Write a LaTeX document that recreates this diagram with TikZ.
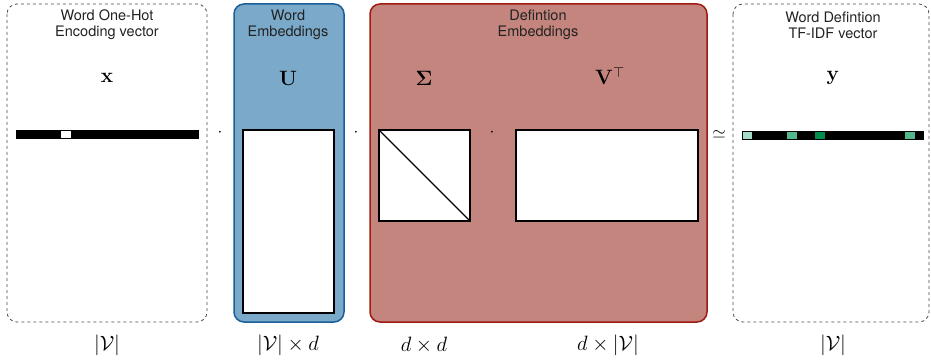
\documentclass[tikz,border=0pt]{standalone}
\usepackage{amsmath,amssymb}
\usepackage[no-math]{fontspec}
\setmainfont{TeX Gyre Heros}
\definecolor{bluefill}{HTML}{7AA9C9}
\definecolor{blueedge}{HTML}{1A5E9A}
\definecolor{redfill}{HTML}{C5857F}
\definecolor{rededge}{HTML}{9E1B12}
\definecolor{gA}{HTML}{A5DBC6}
\definecolor{gB}{HTML}{54B68C}
\definecolor{gC}{HTML}{008C4A}
\definecolor{txt}{HTML}{222222}
\begin{document}
\begin{tikzpicture}[x=1pt,y=-1pt,
  titletext/.style={font=\fontsize{14.5}{16}\selectfont, text=txt, align=center},
  mathtext/.style={font=\fontsize{20}{24}\selectfont},
  dimtext/.style={font=\fontsize{20}{24}\selectfont},
  dashbox/.style={draw=black!70, dashed, line width=0.8pt, rounded corners=10pt},
  matbox/.style={draw=black, fill=white, line width=1.3pt},
  opsym/.style={font=\fontsize{18}{20}\selectfont}]
\useasboundingbox (0,0) rectangle (931,363);
% panels
\draw[dashbox] (7,4) rectangle (207,322);
\draw[fill=bluefill, draw=blueedge, line width=1.5pt, rounded corners=10pt] (234,4) rectangle (344,322);
\draw[fill=redfill, draw=rededge, line width=1.5pt, rounded corners=10pt] (370,4) rectangle (707,322);
\draw[dashbox] (733,4) rectangle (929,322);
% titles
\node[titletext] (t1) at (107,25) {Word One-Hot\\Encoding vector};
\node[titletext] (t2) at (288,25) {Word\\Embeddings};
\node[titletext] (t3) at (538,25) {Defintion\\Embeddings};
\node[titletext] (t4) at (833,25) {Word Defintion\\TF-IDF vector};
% symbols
\node[mathtext] (sx) at (107,78) {$\mathbf{x}$};
\node[mathtext] (sU) at (288,78) {$\mathbf{U}$};
\node[mathtext] (sS) at (424,78) {$\boldsymbol{\Sigma}$};
\node[mathtext] (sV) at (610,76) {$\mathbf{V}^{\top}$};
\node[mathtext] (sy) at (833,78) {$\mathbf{y}$};
% x vector
\fill[black] (16,130) rectangle (199,139);
\fill[white] (61,131) rectangle (71,138);
% U
\draw[matbox] (243,130) rectangle (334,313);
% Sigma
\draw[matbox] (379,130) rectangle (470,221);
\draw[line width=1.3pt] (379,130) -- (470,221);
% V
\draw[matbox] (516,130) rectangle (698,221);
% y vector
\fill[black] (742,131) rectangle (924,140);
\fill[gA] (743,132) rectangle (752,139);
\fill[gB] (787,132) rectangle (797,139);
\fill[gC] (815,132) rectangle (825,139);
\fill[gB] (905,132) rectangle (915,139);
% operators
\node[opsym] (d1) at (220,133) {$\cdot$};
\node[opsym] (d2) at (356,133) {$\cdot$};
\node[opsym] (d3) at (492,133) {$\cdot$};
\node[opsym] (ap) at (719,134) {$\simeq$};
% dims
\node[dimtext] (b1) at (107,345) {$|\mathcal{V}|$};
\node[dimtext] (b2) at (288,345) {$|\mathcal{V}|\times d$};
\node[dimtext] (b3) at (424,345) {$d\times d$};
\node[dimtext] (b4) at (608,345) {$d\times|\mathcal{V}|$};
\node[dimtext] (b5) at (833,345) {$|\mathcal{V}|$};
\end{tikzpicture}
\end{document}
